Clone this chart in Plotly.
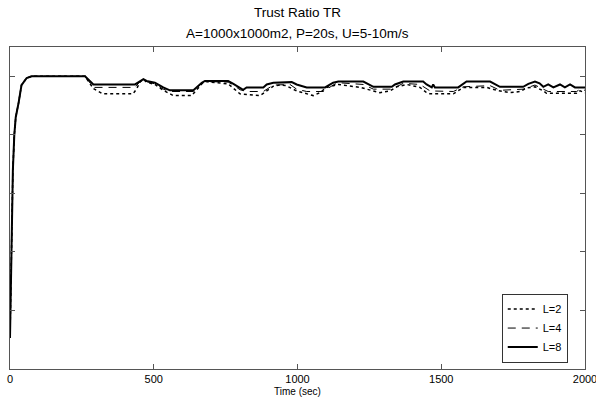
import plotly.graph_objects as go

# Time (sec) and trust-ratio values
t_rise = [0, 5, 10, 15, 20, 30, 40, 58, 75, 261]
v_rise = [0.553, 0.72, 0.84, 0.90, 0.93, 0.955, 0.985, 0.997, 1.0, 1.0]

t_l8 = t_rise + [290, 435, 452, 464, 475, 504, 533, 556, 638, 667, 678, 759, 777, 800,
                 811, 823, 881, 893, 916, 980, 997, 1032, 1096, 1124, 1142, 1229, 1246,
                 1264, 1328, 1339, 1368, 1437, 1449, 1461, 1467, 1472, 1478, 1559, 1577,
                 1588, 1670, 1687, 1704, 1785, 1803, 1826, 1842, 1855, 1872, 1890, 1913,
                 1930, 1948, 1965, 2000]
v_l8 = v_rise + [0.986, 0.986, 0.992, 0.995, 0.992, 0.989, 0.981, 0.976, 0.976, 0.989,
                 0.992, 0.992, 0.987, 0.981, 0.977, 0.981, 0.981, 0.986, 0.989, 0.990,
                 0.986, 0.981, 0.981, 0.989, 0.991, 0.991, 0.986, 0.982, 0.982, 0.986,
                 0.991, 0.991, 0.986, 0.982, 0.981, 0.986, 0.981, 0.981, 0.987, 0.991,
                 0.991, 0.987, 0.982, 0.982, 0.987, 0.991, 0.988, 0.982, 0.986, 0.981,
                 0.986, 0.981, 0.986, 0.981, 0.981]

t_l4 = t_rise + [290, 435, 452, 464, 475, 504, 533, 556, 638, 667, 678, 759, 777, 800,
                 823, 881, 905, 916, 974, 997, 1032, 1090, 1124, 1142, 1229, 1264, 1328,
                 1368, 1426, 1461, 1542, 1577, 1670, 1704, 1785, 1826, 1855, 1872, 1971,
                 1983, 2000]
v_l4 = v_rise + [0.981, 0.981, 0.991, 0.995, 0.991, 0.987, 0.978, 0.974, 0.974, 0.988,
                 0.991, 0.990, 0.985, 0.977, 0.974, 0.974, 0.981, 0.985, 0.986, 0.978,
                 0.974, 0.974, 0.985, 0.989, 0.986, 0.978, 0.978, 0.988, 0.986, 0.975,
                 0.974, 0.982, 0.984, 0.976, 0.978, 0.985, 0.978, 0.974, 0.974, 0.978,
                 0.976]

t_l2 = t_rise + [290, 323, 428, 441, 452, 464, 475, 504, 533, 568, 632, 667, 678, 759,
                 788, 800, 870, 916, 939, 960, 997, 1032, 1055, 1078, 1101, 1142, 1218,
                 1264, 1287, 1322, 1345, 1380, 1426, 1449, 1461, 1542, 1559, 1577, 1658,
                 1693, 1739, 1774, 1797, 1826, 1855, 1866, 1971, 1983, 2000]
v_l2 = v_rise + [0.979, 0.970, 0.970, 0.979, 0.990, 0.995, 0.990, 0.986, 0.976, 0.967,
                 0.967, 0.987, 0.991, 0.987, 0.975, 0.970, 0.967, 0.983, 0.985, 0.984,
                 0.975, 0.970, 0.967, 0.972, 0.981, 0.986, 0.981, 0.975, 0.972, 0.975,
                 0.982, 0.986, 0.981, 0.972, 0.970, 0.970, 0.975, 0.981, 0.981, 0.976,
                 0.972, 0.974, 0.980, 0.982, 0.975, 0.971, 0.971, 0.975, 0.972]

x_ticks = [0, 500, 1000, 1500, 2000]
y_ticks = [0.5, 0.6, 0.7, 0.8, 0.9, 1.0]
title_lines = ["Trust Ratio TR", "A=1000x1000m2, P=20s, U=5-10m/s"]

FONT = "Liberation Sans, Arial, sans-serif"

fig = go.Figure()
fig.add_trace(go.Scatter(x=t_l2, y=v_l2, mode="lines", name="L=2",
                         line=dict(color="black", width=1.5, dash="dot")))
fig.add_trace(go.Scatter(x=t_l4, y=v_l4, mode="lines", name="L=4",
                         line=dict(color="black", width=1, dash="8px,6px")))
fig.add_trace(go.Scatter(x=t_l8, y=v_l8, mode="lines", name="L=8",
                         line=dict(color="black", width=2)))

axis_common = dict(showgrid=False, zeroline=False, showline=True, linecolor="#555",
                   linewidth=1, mirror="ticks", ticks="inside", ticklen=5,
                   tickcolor="#555", automargin=False)

# plot area: x 10..585, y 47..369 (pixels)
for i, txt in enumerate(title_lines):
    fig.add_annotation(text=txt, xref="paper", yref="paper",
                       x=0.5, y=(369 - (13 + 20 * i)) / 322,
                       xanchor="center", yanchor="middle", showarrow=False,
                       font=dict(size=13.5, family=FONT, color="black"))

fig.update_layout(
    width=596, height=403,
    margin=dict(l=10, r=11, t=47, b=34, autoexpand=False),
    paper_bgcolor="white", plot_bgcolor="white",
    font=dict(family=FONT, color="black", size=11),
    xaxis=dict(range=[0, 2000], tickvals=x_ticks, tickfont=dict(size=11),
               ticklabeloverflow="allow",
               title=dict(text="Time (sec)", font=dict(size=10), standoff=3),
               **axis_common),
    yaxis=dict(range=[0.5, 1.05], tickvals=y_ticks, showticklabels=False,
               **axis_common),
    legend=dict(x=0.97, xanchor="right", y=0.02, yanchor="bottom",
                bgcolor="white", bordercolor="#333", borderwidth=1,
                font=dict(size=11), itemwidth=30, tracegroupgap=0),
    showlegend=True,
)

fig.write_html("out.html", config={"displayModeBar": False},
               post_script="document.body.style.margin='0';document.body.style.overflow='hidden';")
